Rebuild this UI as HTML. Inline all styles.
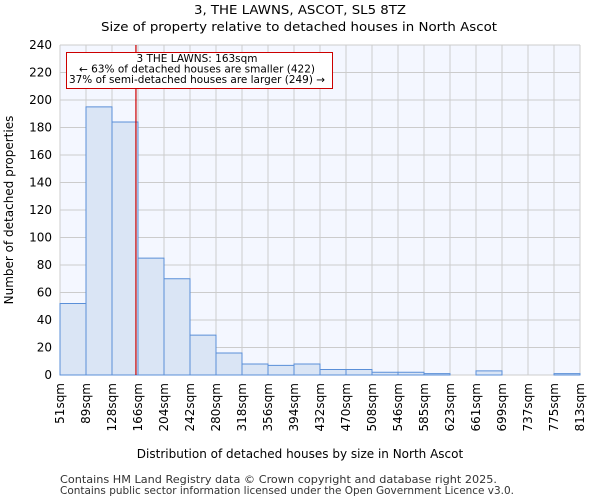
<!DOCTYPE html>
<html><head><meta charset="utf-8"><style>
body{margin:0;background:#fff;font-family:"DejaVu Sans","Liberation Sans",sans-serif;}
</style></head><body>
<svg width="600" height="500" id="c" font-family="DejaVu Sans, Liberation Sans, sans-serif">
<text x="300" y="14" text-anchor="middle" font-size="12" textLength="212" lengthAdjust="spacingAndGlyphs">3, THE LAWNS, ASCOT, SL5 8TZ</text>
<text x="299" y="31" text-anchor="middle" font-size="12.5" textLength="396" lengthAdjust="spacingAndGlyphs">Size of property relative to detached houses in North Ascot</text>
<text x="300" y="458" text-anchor="middle" font-size="12">Distribution of detached houses by size in North Ascot</text>
<text transform="translate(13,210) rotate(-90)" text-anchor="middle" font-size="12">Number of detached properties</text>
<text x="60" y="483" font-size="10.5" fill="#333" textLength="437" lengthAdjust="spacingAndGlyphs">Contains HM Land Registry data © Crown copyright and database right 2025.</text>
<text x="60" y="494" font-size="10.5" fill="#333" textLength="454" lengthAdjust="spacingAndGlyphs">Contains public sector information licensed under the Open Government Licence v3.0.</text>
<g id="plot"></g>
</svg>
<script>
const categories=["51sqm","89sqm","128sqm","166sqm","204sqm","242sqm","280sqm","318sqm","356sqm","394sqm","432sqm","470sqm","508sqm","546sqm","585sqm","623sqm","661sqm","699sqm","737sqm","775sqm","813sqm"];
const counts=[52,195,184,85,70,29,16,8,7,8,4,4,2,2,1,0,3,0,0,1];
const yTicks=[0,20,40,60,80,100,120,140,160,180,200,220,240];
const edges=[51,89,128,166,204,242,280,318,356,394,432,470,508,546,585,623,661,699,737,775,813];
const subject=163;
const ns="http://www.w3.org/2000/svg";
const L=60,R=580,T=45,B=375;
const bw=(R-L)/counts.length;
const y=v=>B-(v/240)*(B-T);
const xv=v=>{for(let i=0;i<edges.length-1;i++){if(v<=edges[i+1])return L+(i+(v-edges[i])/(edges[i+1]-edges[i]))*bw;}return R;};
const g=document.getElementById('plot');
function mk(t,a){const e=document.createElementNS(ns,t);for(const k in a)e.setAttribute(k,a[k]);g.appendChild(e);return e;}
let e=mk('rect',{x:L,y:T,width:R-L,height:B-T,fill:'#f4f7ff'});


yTicks.forEach(v=>{
 let l=mk('line',{x1:L,x2:R,y1:y(v),y2:y(v),stroke:'#cccccc','stroke-width':1});
 
 
 let t=mk('text',{x:L-8,y:y(v)+4,'text-anchor':'end','font-size':12});
 t.textContent=v;
 
 
});
categories.forEach((c,i)=>{
 const x=L+i*bw;
 let l=mk('line',{x1:x,x2:x,y1:T,y2:B,stroke:'#cccccc','stroke-width':1});
 
 
 let t=mk('text',{transform:`translate(${x+4},${B+8}) rotate(-90)`,'text-anchor':'end','font-size':12});
 t.textContent=c;
 
 
});
counts.forEach((v,i)=>{
 let r=mk('rect',{x:L+i*bw,y:y(v),width:bw,height:B-y(v),fill:'#dae5f5',stroke:'#5a8fd8','stroke-width':1});
 
 
});
const sx=xv(subject);
e=mk('line',{x1:sx,x2:sx,y1:T,y2:B,stroke:'#cc0000','stroke-width':1.2});


e=mk('rect',{x:66.5,y:52.5,width:266,height:36,fill:'#fff',stroke:'#cc0000','stroke-width':1});


const annLines=["3 THE LAWNS: 163sqm","← 63% of detached houses are smaller (422)","37% of semi-detached houses are larger (249) →"];
const annW=[121,236,256];
annLines.forEach((s,i)=>{
 let t=mk('text',{x:197,y:62+i*10.5,'text-anchor':'middle','font-size':10.3,textLength:annW[i],lengthAdjust:'spacingAndGlyphs'});
 t.textContent=s;
 
 
});
</script>
</body></html>
